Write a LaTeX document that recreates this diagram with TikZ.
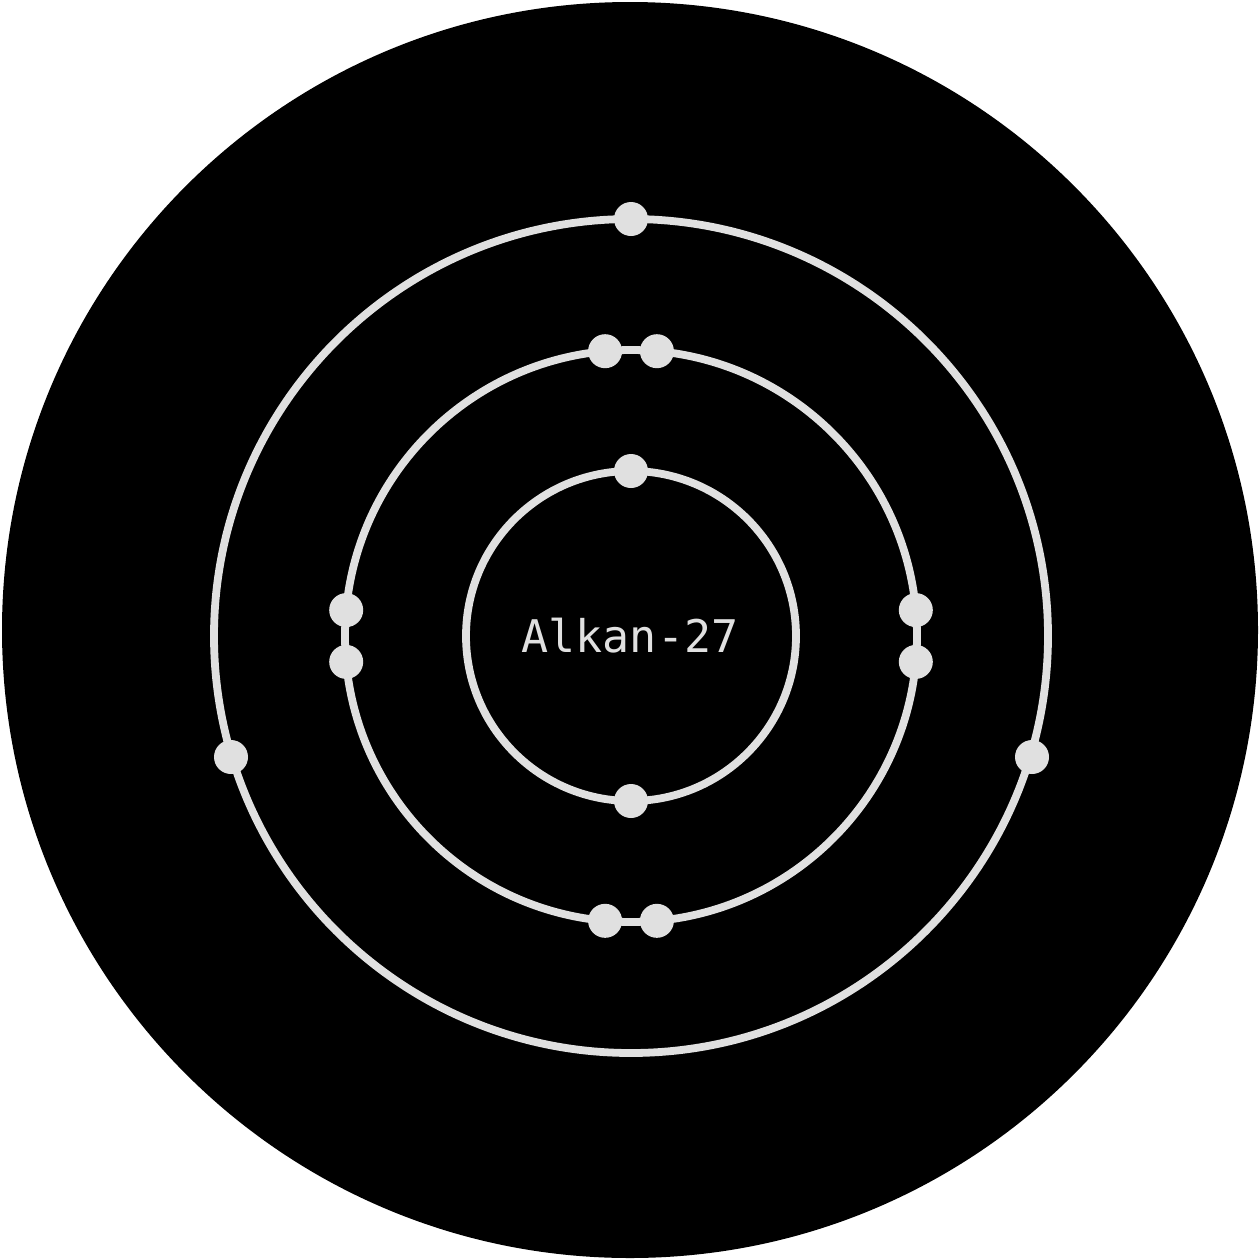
\documentclass[tikz,border=0pt]{standalone}
\usepackage{fontspec}
\usetikzlibrary{calc}
\newfontfamily\monofam{DejaVu Sans Mono}
\definecolor{fg}{HTML}{E0E0E0}
\begin{document}
\begin{tikzpicture}[x=0.1mm,y=-0.1mm,
  ring/.style={draw=fg,line width=0.78mm},
  electron/.style={circle,fill=fg,inner sep=0pt,minimum size=3.4mm},
  lbl/.style={text=fg,font=\monofam\fontsize{12.8pt}{15pt}\selectfont,inner sep=0pt}]
\useasboundingbox (0,0) rectangle (1260,1260);
\fill[black] (630,630) circle[radius=628];
\coordinate (c) at (631,636);
\draw[ring] (c) circle[radius=165];
\draw[ring] (c) circle[radius=286];
\draw[ring] (c) circle[radius=417];
% inner shell
\node[electron] (e1) at ($(c)+(0,-165)$) {};
\node[electron] (e2) at ($(c)+(0,165)$) {};
% middle shell
\foreach \a/\n in {84.8/m1,95.2/m2,174.8/m3,185.2/m4,264.8/m5,275.2/m6,-5.2/m7,5.2/m8}
  \node[electron] (\n) at ($(c)+({286*cos(\a)},{-286*sin(\a)})$) {};
% outer shell
\node[electron] (o1) at ($(c)+(0,-417)$) {};
\node[electron] (o2) at ($(c)+(-400,121)$) {};
\node[electron] (o3) at ($(c)+(401,121)$) {};
\node[lbl,anchor=base] (t) at (630,652) {Alkan-27};
\end{tikzpicture}
\end{document}
